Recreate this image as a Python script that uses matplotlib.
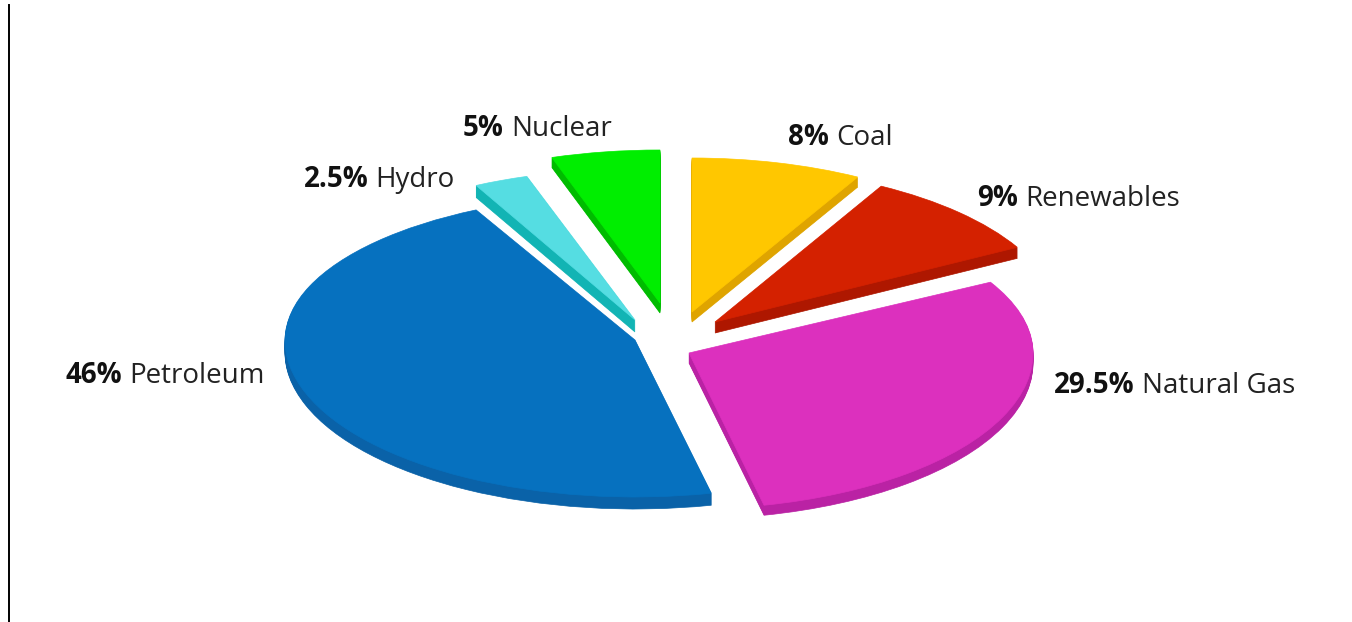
import numpy as np
import matplotlib
matplotlib.use('Agg')
from matplotlib import pyplot as plt
from matplotlib.patches import PathPatch
from matplotlib.path import Path

# clockwise from 12 o'clock, same order as the picture
names = ['Coal', 'Renewables', 'Natural Gas', 'Petroleum', 'Hydro', 'Nuclear']
shares = [8, 9, 29.5, 46, 2.5, 5]
pct_labels = ['8%', '9%', '29.5%', '46%', '2.5%', '5%']

top_colors = ['#FFC700', '#D42100', '#DC30BE', '#0671BF', '#55DDE2', '#00EE00']
side_colors = ['#DFA400', '#AE1700', '#BA22A4', '#0A62A8', '#12B4B4', '#00BC00']

# where each exploded slice sits (pixels): apex x, apex y, rx, ry above, ry below, depth
apex_x = [692, 715, 689, 635, 635, 660]
apex_y = [312, 322, 353, 340, 320, 303]
rad_x = [344, 345, 344, 350, 350, 350]
rad_up = [154, 155, 147, 146, 151, 153]
rad_down = [154, 155, 156, 157, 151, 153]
depth = [10, 11, 10, 12, 12, 10]

label_x = [788, 977, 1054, 66, 304, 463]
label_y = [145, 206, 393, 383, 187, 136]

plt.rcParams['font.family'] = ['Open Sans', 'DejaVu Sans']

fig = plt.figure(figsize=(13.52, 6.22), dpi=100)
ax = fig.add_axes([0, 0, 1, 1])

wedges, _ = ax.pie(shares, startangle=90, counterclock=False)

ax.set_aspect('auto')
ax.set_xlim(0, 1352)
ax.set_ylim(622, 0)
ax.axis('off')

for i, w in enumerate(wedges):
    p = w.get_path()
    v = p.vertices
    w.remove()
    x = apex_x[i] + v[:, 0] * rad_x[i]
    ry = np.where(v[:, 1] > 0, rad_up[i], rad_down[i])
    y = apex_y[i] - v[:, 1] * ry
    # side of the slice: same shape stacked downwards
    for d in range(depth[i], 0, -1):
        side = Path(np.column_stack([x, y + d]), p.codes)
        ax.add_patch(PathPatch(side, fc=side_colors[i], ec=side_colors[i], lw=0.5, zorder=2))
    face = Path(np.column_stack([x, y]), p.codes)
    ax.add_patch(PathPatch(face, fc=top_colors[i], ec=top_colors[i], lw=0.5, zorder=3))

    t = ax.text(label_x[i], label_y[i], pct_labels[i], fontsize=20, fontweight='bold',
                color='#111111', va='baseline', ha='left', zorder=5)
    ax.annotate(names[i], xy=(1, 0), xycoords=t, xytext=(5, 0), textcoords='offset points',
                fontsize=20, color='#222222', va='bottom', ha='left', zorder=5)

# black rule down the left edge
ax.plot([9, 9], [5, 622], color='black', lw=1.4, zorder=1)

fig.savefig('out.png', dpi=100, facecolor='white')
